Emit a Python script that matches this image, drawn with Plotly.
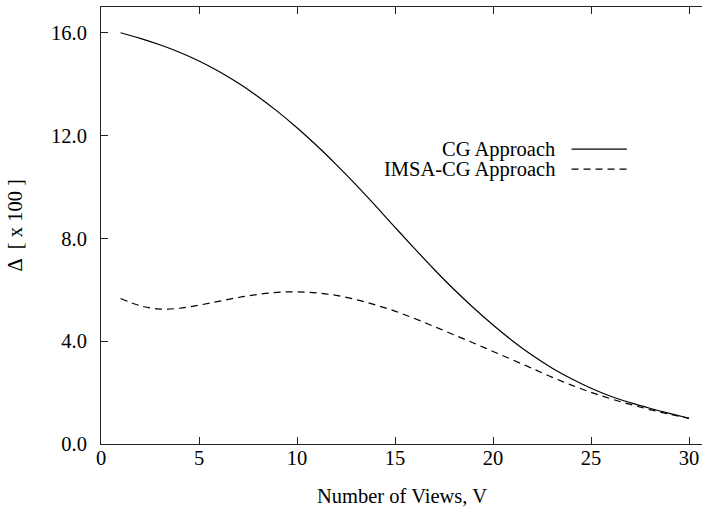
import plotly.graph_objects as go

views = list(range(1, 31))
cg = [16.0, 15.78, 15.53, 15.24, 14.9, 14.5, 14.04, 13.52, 12.94, 12.3,
      11.61, 10.87, 10.09, 9.27, 8.43, 7.6, 6.79, 6.02, 5.3, 4.63,
      4.01, 3.45, 2.96, 2.54, 2.17, 1.86, 1.61, 1.39, 1.19, 1.0]
imsa = [5.66, 5.38, 5.25, 5.28, 5.4, 5.55, 5.7, 5.82, 5.9, 5.92,
        5.88, 5.78, 5.62, 5.41, 5.17, 4.88, 4.57, 4.25, 3.93, 3.6,
        3.27, 2.94, 2.6, 2.29, 2.01, 1.76, 1.54, 1.34, 1.16, 1.0]
series_names = ["CG Approach", "IMSA-CG Approach"]
x_ticks = [0, 5, 10, 15, 20, 25, 30]
y_ticks = [0, 4, 8, 12, 16]

FONT = "Liberation Serif, Times New Roman, serif"
FS = 20.5
fig = go.Figure()
fig.add_trace(go.Scatter(x=views, y=cg, mode="lines", name=series_names[0],
                         line=dict(color="black", width=1.2, shape="spline", smoothing=1.0),
                         showlegend=False))
fig.add_trace(go.Scatter(x=views, y=imsa, mode="lines", name=series_names[1],
                         line=dict(color="black", width=1.2, shape="spline", smoothing=1.0,
                                   dash="7px,5px"),
                         showlegend=False))

axis_common = dict(showgrid=False, zeroline=False, showline=True, linecolor="#222",
                   linewidth=1, ticks="inside", ticklen=7, tickcolor="#222",
                   tickfont=dict(family=FONT, size=FS, color="black"))
fig.update_xaxes(range=[0, 30.66], tickvals=x_ticks, mirror="ticks",
                 ticklabelstandoff=-5, **axis_common)
fig.update_yaxes(range=[0, 17], tickvals=y_ticks, tickformat=".1f",
                 ticklabelstandoff=9, **axis_common)

# axis titles
fig.add_annotation(text="Number of Views, V", xref="paper", yref="paper", x=0.5, y=0,
                   yshift=-52, yanchor="middle", showarrow=False,
                   font=dict(family=FONT, size=FS, color="black"))
fig.add_annotation(text="Δ  [ x 100 ]", xref="paper", yref="paper", x=0, y=0.5,
                   xshift=-87, xanchor="center", yanchor="middle", textangle=-90,
                   showarrow=False, font=dict(family=FONT, size=FS, color="black"))

# gnuplot-style legend (text left of sample)
leg_y = [0.675, 0.629]
dashes = ["solid", "7px,5px"]
for name, yy, d in zip(series_names, leg_y, dashes):
    fig.add_annotation(text=name, xref="paper", yref="paper", x=0.758, y=yy,
                       xanchor="right", yanchor="middle", showarrow=False,
                       font=dict(family=FONT, size=FS, color="black"))
    fig.add_shape(type="line", xref="paper", yref="paper", x0=0.783, x1=0.875,
                  y0=yy, y1=yy, line=dict(color="black", width=1.2, dash=d))

fig.update_layout(width=702, height=511, margin=dict(l=101, r=0, t=7, b=67),
                  plot_bgcolor="white", paper_bgcolor="white")
fig.write_html("out.html")
